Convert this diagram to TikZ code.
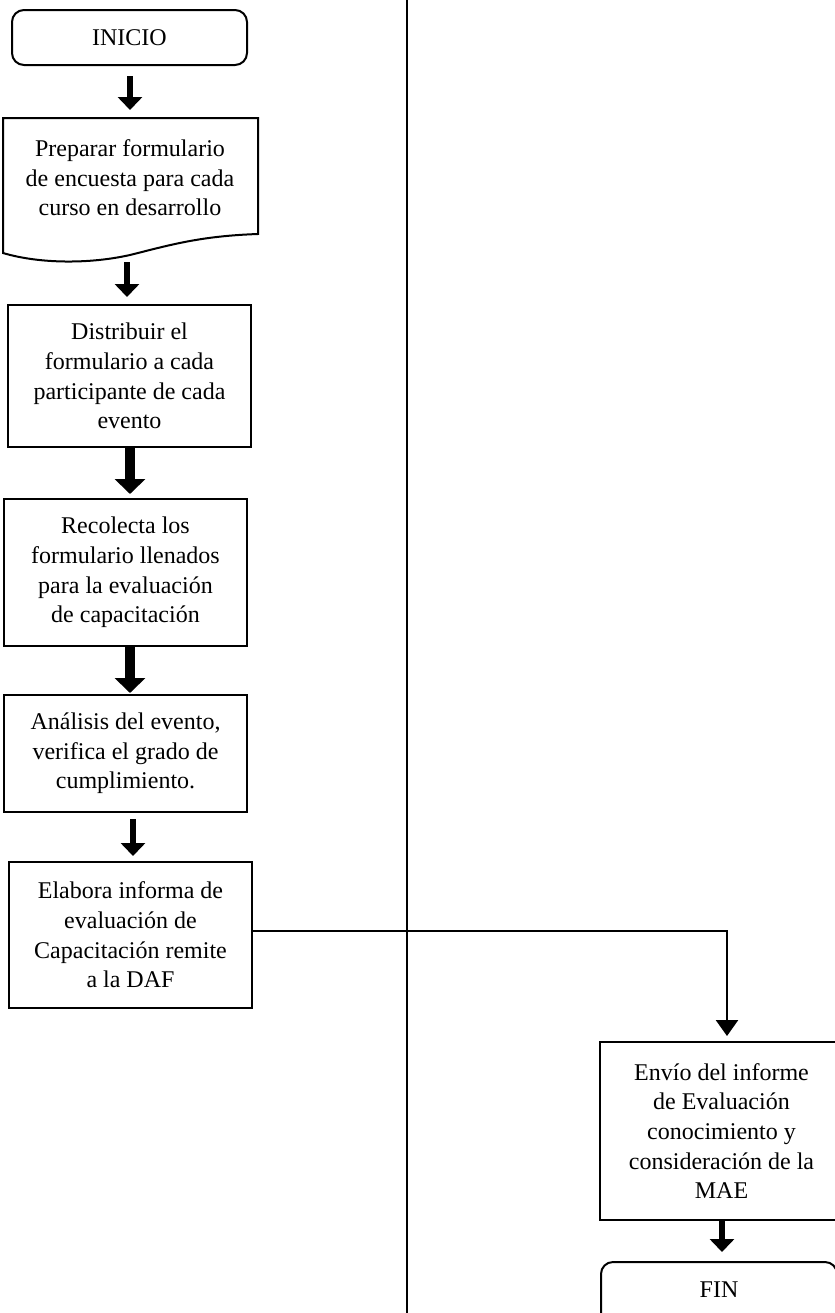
\documentclass[tikz,border=0pt]{standalone}
\usepackage{fontspec}
\setmainfont{Liberation Serif}
\usetikzlibrary{arrows.meta,calc}

\begin{document}
\begin{tikzpicture}[x=0.5pt,y=-0.5pt,
  every node/.style={font=\fontsize{12}{14.8}\selectfont},
  box/.style={draw, line width=1pt, align=center, minimum width=121.5pt, inner sep=0pt},
  terminal/.style={draw, line width=1pt, rounded corners=6pt, align=center, inner sep=0pt},
  label/.style={align=center, inner sep=0pt},
  arrA/.style={line width=3pt, -{Triangle[width=12pt,length=6.5pt]}},
  arrB/.style={line width=5pt, -{Triangle[width=15pt,length=7.5pt]}},
  conn/.style={line width=1.3pt, -{Triangle[width=11pt,length=8pt]}},
  lane/.style={line width=1.1pt}]

\useasboundingbox (0,0) rectangle (835,1313);
\clip (0,0) rectangle (835,1313);

% swim-lane divider
\coordinate (laneTop) at (407,0);
\coordinate (laneBot) at (407,1313);
\draw[lane] (laneTop) -- (laneBot);

% start
\node[terminal, minimum width=117.5pt, minimum height=27.5pt] (inicio) at (129.5,37.5) {INICIO};

% document shape with wavy bottom
\draw[line width=1pt, fill=white]
  (3,253) -- (3,118) -- (258,118) -- (258,234)
  .. controls (200,236) and (170,245) .. (130,255)
  .. controls (90,264) and (40,264) .. (3,253) -- cycle;
\node[label] (doc) at (130,178) {Preparar formulario\\de encuesta para cada\\curso en desarrollo};
\coordinate (docTop) at (130,118);
\coordinate (docBot) at (127,262);

% process steps
\node[box, minimum height=71pt] (dist) at (129.5,376)
  {Distribuir el\\formulario a cada\\participante de cada\\evento};
\node[box, minimum height=73.5pt] (reco) at (125.5,572.5)
  {Recolecta los\\formulario llenados\\para la evaluación\\de capacitación};
\node[box, minimum height=58.5pt] (anal) at (125.5,753.5)
  {Análisis del evento,\\verifica el grado de\\cumplimiento.};
\node[box, minimum height=73pt] (elab) at (130.5,935)
  {Elabora informa de\\evaluación de\\Capacitación remite\\a la DAF};
\node[box, minimum height=89pt] (envio) at (721.5,1131)
  {Envío del informe\\de Evaluación\\conocimiento y\\consideración de la\\MAE};

% end (runs past the lower edge of the page)
\node[terminal, minimum width=118pt, minimum height=32pt, text depth=4pt] (fin) at (719,1294) {FIN};

% connectors (all vertical, offset from the box centres)
\draw[arrA, shorten >=4pt] ([xshift=0.25pt,yshift=-5pt]inicio.south) -- ([xshift=0.25pt]inicio.south |- docTop);
\draw[arrA, shorten >=3.5pt] (docBot) -- (docBot |- dist.north);
\draw[arrB, shorten >=2pt] ([xshift=0.25pt]dist.south) -- ([xshift=0.25pt]dist.south |- reco.north);
\draw[arrB, shorten >=0.5pt] ([xshift=2.25pt]reco.south) -- ([xshift=2.25pt]reco.south |- anal.north);
\draw[arrA, shorten >=2.5pt] ([xshift=3.75pt,yshift=-3pt]anal.south) -- ([xshift=3.75pt]anal.south |- elab.north);
\draw[conn, shorten >=2.5pt] ([yshift=2pt]elab.east) -| ([xshift=2.75pt]envio.north);
\draw[arrA, shorten >=4.5pt] ([xshift=0.25pt]envio.south) -- ([xshift=0.25pt]envio.south |- fin.north);

\end{tikzpicture}
\end{document}
